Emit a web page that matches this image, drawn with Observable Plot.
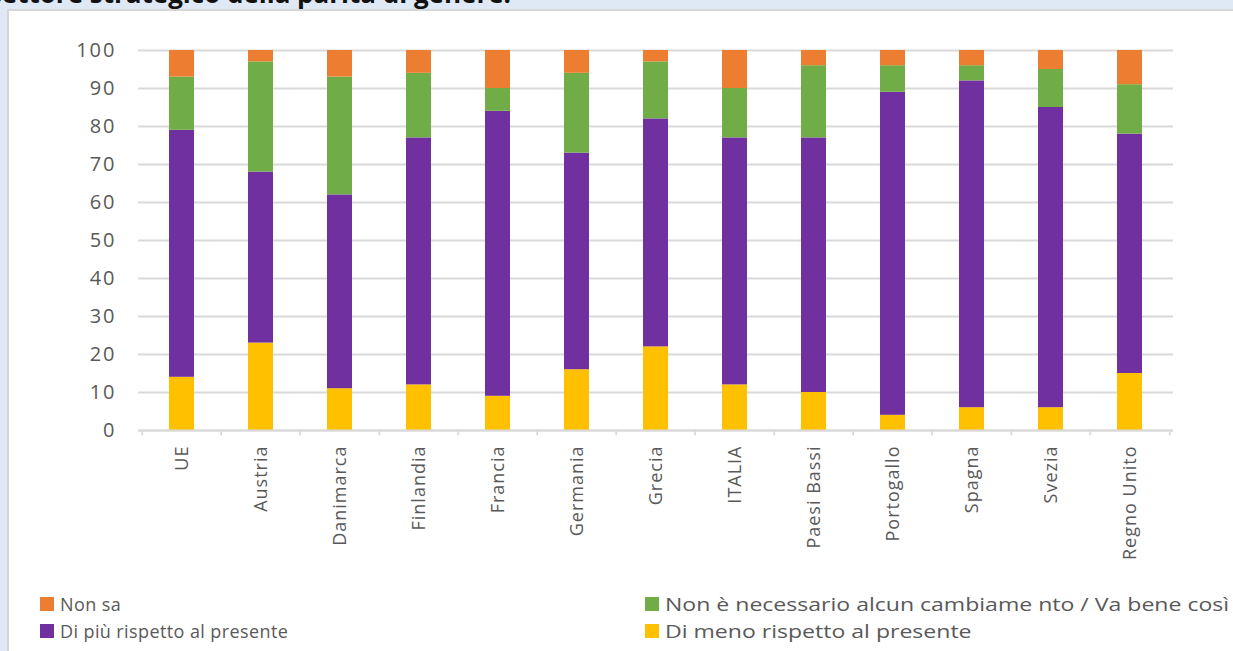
<!DOCTYPE html>
<html>
<head>
<meta charset="utf-8">
<script src="https://cdn.jsdelivr.net/npm/d3@7"></script>
<script src="https://cdn.jsdelivr.net/npm/@observablehq/plot@0.6"></script>
<style>
  html, body { margin: 0; padding: 0; }
  body { width: 1233px; height: 651px; overflow: hidden; background: #dee9f5; position: relative; font-family: "Open Sans", sans-serif; }
  #title { position: absolute; right: 722px; top: -20px; white-space: nowrap; font: bold 26px "Open Sans", sans-serif; color: #111; line-height: 1; }
  #panel { position: absolute; left: 7px; top: 9px; width: 1300px; height: 700px; background: #fff; border-left: 2px solid #d6d6d6; border-top: 2px solid #d6d6d6; }
  #chart { position: absolute; left: 0; top: 0; }
  .lg { position: absolute; display: flex; align-items: center; font-size: 18px; color: #595959; white-space: nowrap; line-height: 1; }
  .lg span.txt { display: inline-block; transform-origin: left center; }
  .sw { width: 14px; height: 14px; margin-right: 6px; flex: none; }
</style>
</head>
<body>
<div id="title">settore strategico della parità di genere.</div>
<div id="panel"></div>
<div id="chart"></div>
<div id="legend"></div>
<script>
const categories = ["UE","Austria","Danimarca","Finlandia","Francia","Germania","Grecia","ITALIA","Paesi Bassi","Portogallo","Spagna","Svezia","Regno Unito"];
const diMeno        = [14,23,11,12, 9,16,22,12,10, 4, 6, 6,15];
const diPiu         = [65,45,51,65,75,57,60,65,67,85,86,79,63];
const nonNecessario = [14,29,31,17, 6,21,15,13,19, 7, 4,10,13];
const nonSa         = [ 7, 3, 7, 6,10, 6, 3,10, 4, 4, 4, 5, 9];
const seriesNames = ["Di meno rispetto al presente","Di più rispetto al presente","Non è necessario alcun cambiame nto / Va bene così","Non sa"];
const seriesColors = ["#FFC000","#7030A0","#70AD47","#ED7D31"];
const yTicks = [0,10,20,30,40,50,60,70,80,90,100];

const seriesValues = [diMeno, diPiu, nonNecessario, nonSa];
const rows = [];
categories.forEach((c, i) => {
  seriesValues.forEach((vals, s) => rows.push({cat: c, series: seriesNames[s], value: vals[i]}));
});

const W = 1233, H = 580, ML = 138, MR = 60, MT = 50, MB = 150;
const step = (W - ML - MR) / categories.length;
const grey = "#d9d9d9";

const chart = Plot.plot({
  width: W, height: H,
  marginLeft: ML, marginRight: MR, marginTop: MT, marginBottom: MB,
  style: {fontFamily: "Open Sans, sans-serif", fontSize: "17px", color: "#595959", background: "transparent", overflow: "visible"},
  x: {domain: categories, paddingInner: 0.686, paddingOuter: 0.343, label: null},
  y: {domain: [0, 100], label: null},
  color: {domain: seriesNames, range: seriesColors},
  marks: [
    Plot.gridY(yTicks, {stroke: grey, strokeOpacity: 1, strokeWidth: 1.8}),
    Plot.axisY(yTicks, {tickSize: 0, tickPadding: 22, fontSize: 20, label: null}),
    Plot.barY(rows, {x: "cat", y: "value", fill: "series"}),
    Plot.ruleY([0], {stroke: grey, strokeWidth: 1.8}),
    Plot.ruleX(categories, {x: d => d, y1: 0, y2: -1.4, dx: -step / 2, stroke: grey, strokeWidth: 1.8}),
    Plot.ruleX([categories[categories.length - 1]], {x: d => d, y1: 0, y2: -1.4, dx: step / 2, stroke: grey, strokeWidth: 1.8}),
    Plot.axisX({tickSize: 0, tickRotate: -90, tickPadding: 15, label: null, fontSize: 18})
  ]
});
chart.querySelectorAll('[aria-label="y-axis tick label"] text').forEach(t => t.setAttribute("letter-spacing", "2"));
chart.querySelectorAll('[aria-label="x-axis tick label"] text').forEach(t => t.setAttribute("letter-spacing", "1"));
document.getElementById("chart").appendChild(chart);

const legendItems = [
  {i: 3, left: 40, top: 604, ls: 0.4, sx: 1},
  {i: 2, left: 645, top: 604, ls: 0, sx: 1.28},
  {i: 1, left: 40, top: 631, ls: 0.4, sx: 1},
  {i: 0, left: 645, top: 631, ls: 0, sx: 1.28}
];
const lg = document.getElementById("legend");
legendItems.forEach(it => {
  const d = document.createElement("div");
  d.className = "lg";
  d.style.left = it.left + "px";
  d.style.top = (it.top - 10) + "px";
  d.style.height = "20px";
  const sw = document.createElement("span");
  sw.className = "sw";
  sw.style.background = seriesColors[it.i];
  const t = document.createElement("span");
  t.className = "txt";
  t.textContent = seriesNames[it.i];
  t.style.letterSpacing = it.ls + "px";
  t.style.transform = "scaleX(" + it.sx + ")";
  d.appendChild(sw); d.appendChild(t);
  lg.appendChild(d);
});
</script>
</body>
</html>
